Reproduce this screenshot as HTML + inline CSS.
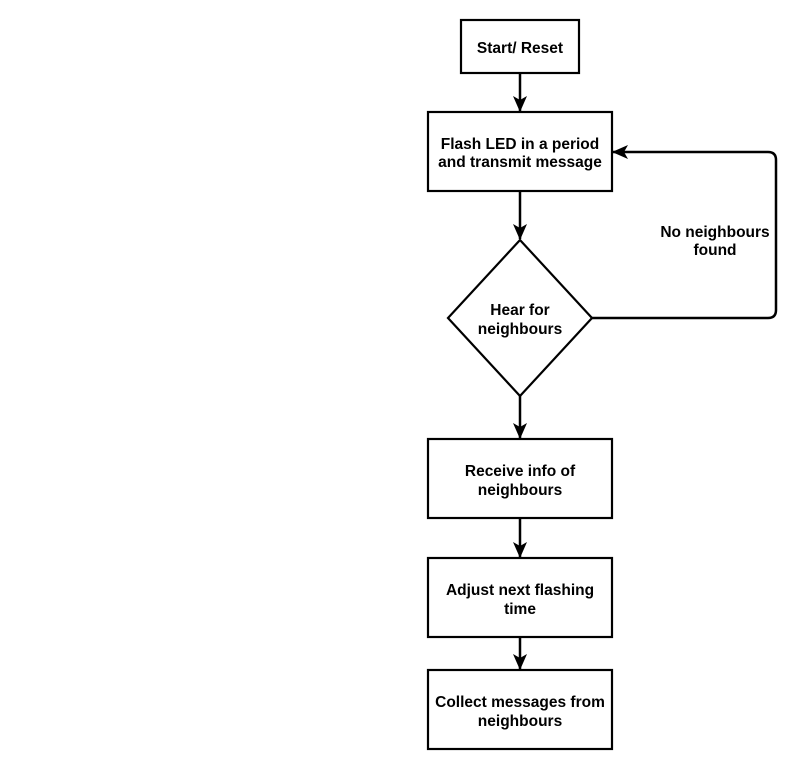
<!DOCTYPE html>
<html><head><style>body{margin:0;background:#fff}</style></head><body>
<svg width="793" height="760" xmlns="http://www.w3.org/2000/svg" font-family="Liberation Sans, sans-serif" font-weight="bold" font-size="15.5" text-anchor="middle">
<defs>
<marker id="b" markerWidth="16" markerHeight="16" refX="15" refY="8" orient="auto" markerUnits="userSpaceOnUse"><path d="M0,1 L16,8 L0,15 L4,8 z" fill="#000"/></marker></defs>
<g fill="#fff" stroke="#000" stroke-width="2.2">
<rect x="461" y="20" width="118" height="53"/>
<rect x="428" y="112" width="184" height="79"/>
<polygon points="520,240 592,318 520,396 448,318"/>
<rect x="428" y="439" width="184" height="79"/>
<rect x="428" y="558" width="184" height="79"/>
<rect x="428" y="670" width="184" height="79"/>
</g>
<g stroke="#000" stroke-width="2.5" fill="none">
<line x1="520" y1="73" x2="520" y2="111" marker-end="url(#b)"/>
<line x1="520" y1="191" x2="520" y2="239" marker-end="url(#b)"/>
<line x1="520" y1="396" x2="520" y2="438" marker-end="url(#b)"/>
<line x1="520" y1="518" x2="520" y2="557" marker-end="url(#b)"/>
<line x1="520" y1="637" x2="520" y2="669" marker-end="url(#b)"/>
<path d="M592,318 H768 Q776,318 776,310 V160 Q776,152 768,152 H613" marker-end="url(#b)"/>
</g>
<text x="520" y="53">Start/ Reset</text>
<text x="520" y="149">Flash LED in a period</text>
<text x="520" y="167">and transmit message</text>
<text x="520" y="315">Hear for</text>
<text x="520" y="334">neighbours</text>
<text x="715" y="237">No neighbours</text>
<text x="715" y="255">found</text>
<text x="520" y="476">Receive info of</text>
<text x="520" y="495">neighbours</text>
<text x="520" y="595">Adjust next flashing</text>
<text x="520" y="614">time</text>
<text x="520" y="707">Collect messages from</text>
<text x="520" y="726">neighbours</text>
</svg>
</body></html>
